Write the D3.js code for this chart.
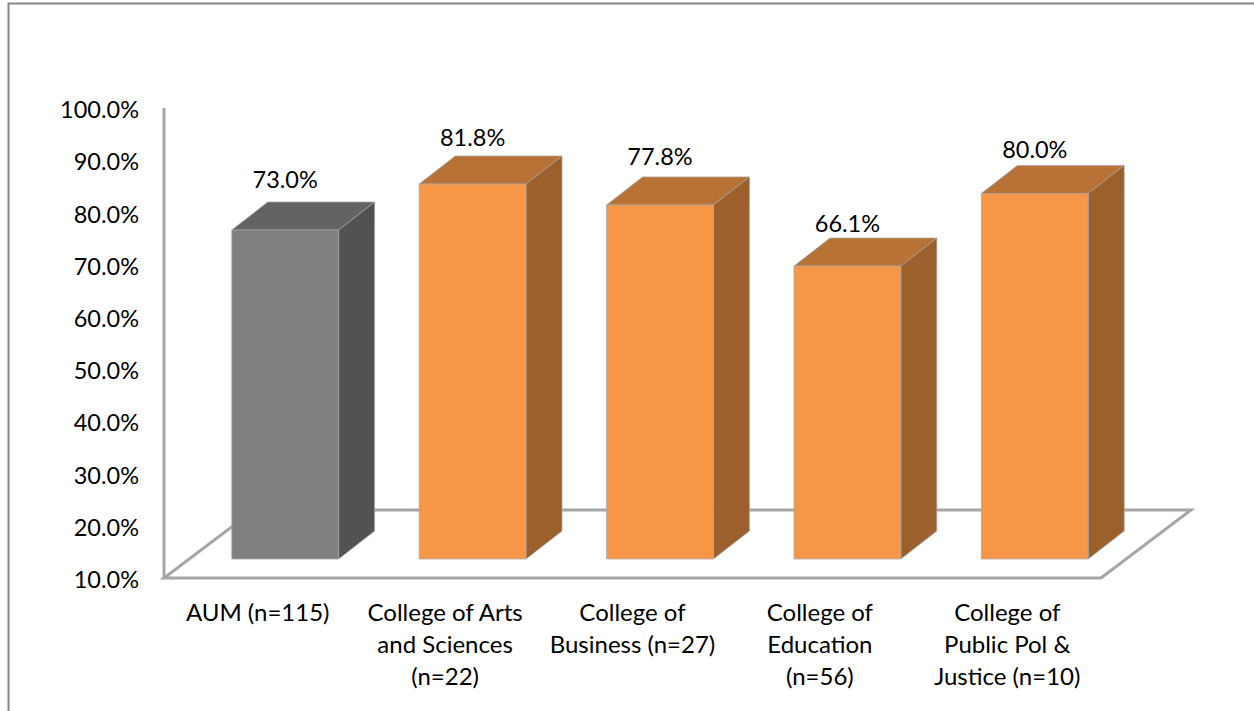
<!DOCTYPE html>
<html>
<head>
<meta charset="utf-8">
<script src="https://cdn.jsdelivr.net/npm/d3@7"></script>
<style>
html, body { margin: 0; padding: 0; background: #fff; overflow: hidden; }
svg { display: block; }
text { font-family: Lato, "Open Sans", sans-serif; fill: #000; }
</style>
</head>
<body>
<svg width="1254" height="711"></svg>
<script>
var categories = ['AUM (n=115)', 'College of Arts and Sciences (n=22)', 'College of Business (n=27)', 'College of Education (n=56)', 'College of Public Pol & Justice (n=10)']
var categoryLines = [
	['AUM (n=115)'],
	['College of Arts', 'and Sciences', '(n=22)'],
	['College of', 'Business (n=27)'],
	['College of', 'Education', '(n=56)'],
	['College of', 'Public Pol &', 'Justice (n=10)']
]
var values = [73.0, 81.8, 77.8, 66.1, 80.0]
var yTicks = [10, 20, 30, 40, 50, 60, 70, 80, 90, 100]

var svg = d3.select('svg')

// outer frame, runs off the picture on the right and bottom
svg.append('rect')
	.attr('x', 8.5).attr('y', 3.5)
	.attr('width', 1300).attr('height', 800)
	.attr('fill', 'none').attr('stroke', '#868686').attr('stroke-width', 2)

var y = d3.scaleLinear().domain([10, 100]).range([578, 108])
var x = d3.scaleBand().domain(categories).range([164, 1101]).paddingInner(0.43).paddingOuter(0.215)

var floorDepth = [90, -68]
var barShift = [27.5, -19]
var barDepth = [36, -28]
// the value labels sit a little closer to some bars than to others
var labelGap = [14, 10, 12, 6, 7]

var palette = function(i) {
	return i == 0
		? {front: '#7f7f7f', side: '#525252', top: '#636363'}
		: {front: '#f79646', side: '#9c602c', top: '#b87236'}
}

/////////////////////////////////////////////////////////////////////////
// floor and y axis

var x0 = x.range()[0], x1 = x.range()[1], y0 = y(10)

svg.append('path')
	.attr('d', d3.line()([
		[x0, y0], [x1, y0],
		[x1 + floorDepth[0], y0 + floorDepth[1]],
		[x0 + floorDepth[0], y0 + floorDepth[1]]
	]) + 'Z')
	.attr('fill', 'none').attr('stroke', '#a6a6a6').attr('stroke-width', 3)

svg.append('line')
	.attr('x1', x0).attr('x2', x0)
	.attr('y1', y(100)).attr('y2', y0)
	.attr('stroke', '#a6a6a6').attr('stroke-width', 3)

var yAxis = svg.append('g')
	.attr('transform', 'translate(' + (x0 - 25) + ',0)')
	.call(d3.axisLeft(y).tickValues(yTicks).tickSize(0).tickPadding(0).tickFormat(function(d) { return d3.format('.1f')(d) + '%' }))
yAxis.select('.domain').remove()
yAxis.selectAll('text').style('font-size', '23.5px').attr('dy', '0.41em').attr('fill', '#000')

/////////////////////////////////////////////////////////////////////////
// bars

var bar = svg.selectAll('.bar').data(values).enter().append('g').attr('class', 'bar')

function face(pts) { return d3.line()(pts) + 'Z' }

function geom(d, i) {
	var l = x(categories[i]) + barShift[0]
	var r = l + x.bandwidth()
	return {l: l, r: r, t: y(d) + barShift[1], b: y0 + barShift[1]}
}

bar.append('path')
	.attr('d', function(d, i) {
		var g = geom(d, i)
		return face([[g.l, g.t], [g.r, g.t], [g.r + barDepth[0], g.t + barDepth[1]], [g.l + barDepth[0], g.t + barDepth[1]]])
	})
	.attr('fill', function(d, i) { return palette(i).top })

bar.append('path')
	.attr('d', function(d, i) {
		var g = geom(d, i)
		return face([[g.r, g.t], [g.r + barDepth[0], g.t + barDepth[1]], [g.r + barDepth[0], g.b + barDepth[1]], [g.r, g.b]])
	})
	.attr('fill', function(d, i) { return palette(i).side })

bar.append('rect')
	.attr('x', function(d, i) { return geom(d, i).l })
	.attr('y', function(d, i) { return geom(d, i).t })
	.attr('width', x.bandwidth())
	.attr('height', function(d, i) { var g = geom(d, i); return g.b - g.t })
	.attr('fill', function(d, i) { return palette(i).front })

bar.selectAll('path, rect')
	.attr('stroke', '#a6a6a6').attr('stroke-width', 0.75).attr('stroke-linejoin', 'round')

bar.append('text')
	.attr('x', function(d, i) { var g = geom(d, i); return (g.l + g.r) / 2 })
	.attr('y', function(d, i) { return geom(d, i).t + barDepth[1] - labelGap[i] })
	.attr('text-anchor', 'middle')
	.style('font-size', '23.5px')
	.text(function(d) { return d3.format('.1f')(d) + '%' })

/////////////////////////////////////////////////////////////////////////
// category labels

svg.selectAll('.cat').data(categoryLines).enter().append('text')
	.attr('class', 'cat')
	.attr('text-anchor', 'middle')
	.style('font-size', '24px')
	.each(function(lines, i) {
		d3.select(this).selectAll('tspan').data(lines).enter().append('tspan')
			.attr('x', x(categories[i]) + x.bandwidth() / 2)
			.attr('y', function(d, j) { return 621 + j * 32 })
			.text(function(d) { return d })
	})
</script>
</body>
</html>
